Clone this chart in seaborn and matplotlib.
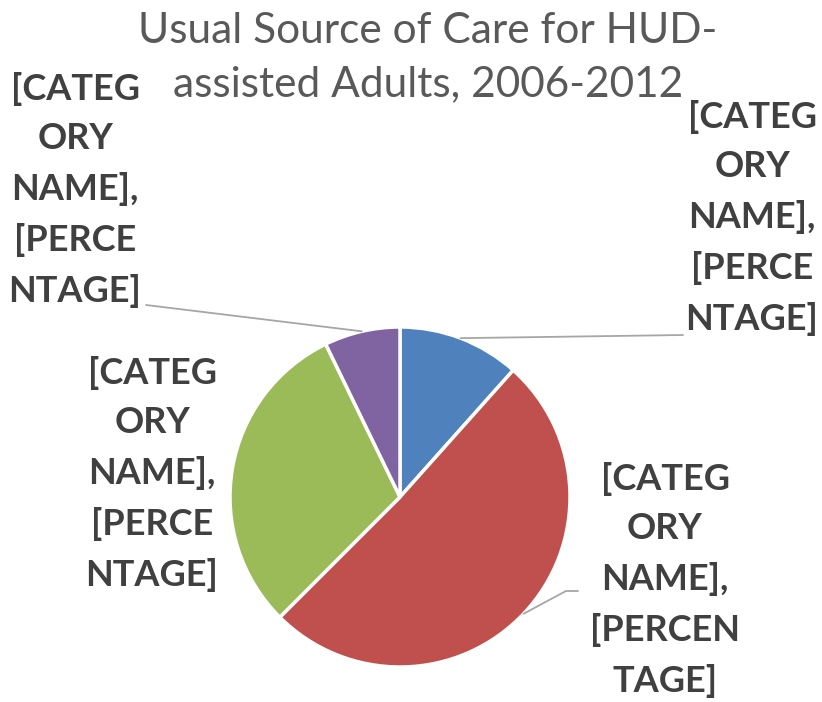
import numpy as np
import matplotlib
matplotlib.use("Agg")
import matplotlib.pyplot as plt
import seaborn as sns

sns.set_style("white")
plt.rcParams['font.family'] = ['Lato', 'DejaVu Sans']

# data (shares in percent, clockwise from 12 o'clock)
categories = ["Blue", "Red", "Green", "Purple"]
shares = [11.6, 50.9, 30.3, 7.2]
colors = ["#4F81BD", "#C0504D", "#9BBB59", "#8064A2"]
labels = ["[CATEG\nORY\nNAME],\n[PERCE\nNTAGE]",
          "[CATEG\nORY\nNAME],\n[PERCEN\nTAGE]",
          "[CATEG\nORY\nNAME],\n[PERCE\nNTAGE]",
          "[CATEG\nORY\nNAME],\n[PERCE\nNTAGE]"]
title = "Usual Source of Care for HUD-\nassisted Adults, 2006-2012"

W, H = 822, 702
fig = plt.figure(figsize=(W / 100, H / 100), dpi=100)

# pie sits at center (400, 497) px, radius 170 px
cx, cy, r = 400, 497, 170
ax = fig.add_axes([(cx - r) / W, 1 - (cy + r) / H, 2 * r / W, 2 * r / H])
wedges, _ = ax.pie(shares, colors=colors, startangle=90, counterclock=False,
                   wedgeprops=dict(edgecolor="white", linewidth=2.5))
ax.set_xlim(-1, 1)
ax.set_ylim(-1, 1)
ax.set_aspect("equal")
ax.axis("off")

fig.text(428 / W, 1 - 12 / H, title, ha="center", va="top",
         fontsize=30.5, color="#595959", linespacing=1.5)


def px(x, y):
    return x / W, 1 - y / H


def wedge_mid(w):
    a = np.deg2rad((w.theta1 + w.theta2) / 2)
    return cx + r * np.cos(a), cy - r * np.sin(a)


# label centers (pixels) and leader paths
label_pos = [(752, 218), (665, 580), (152, 474), (75, 190)]
for i, (w, txt) in enumerate(zip(wedges, labels)):
    lx, ly = label_pos[i]
    fig.text(*px(lx, ly), txt, ha="center", va="center", fontsize=26,
             fontweight="bold", color="#404040", linespacing=1.6,
             multialignment="center")

leaders = {0: [(683, 335)], 1: [(566, 591), (578, 591)], 3: [(146, 305)]}
for i, pts in leaders.items():
    x0, y0 = wedge_mid(wedges[i])
    xs = [x0] + [p[0] for p in pts]
    ys = [y0] + [p[1] for p in pts]
    fig.add_artist(plt.Line2D([x / W for x in xs], [1 - y / H for y in ys],
                              color="#A6A6A6", lw=1.3))

fig.savefig("out.png", dpi=100)
